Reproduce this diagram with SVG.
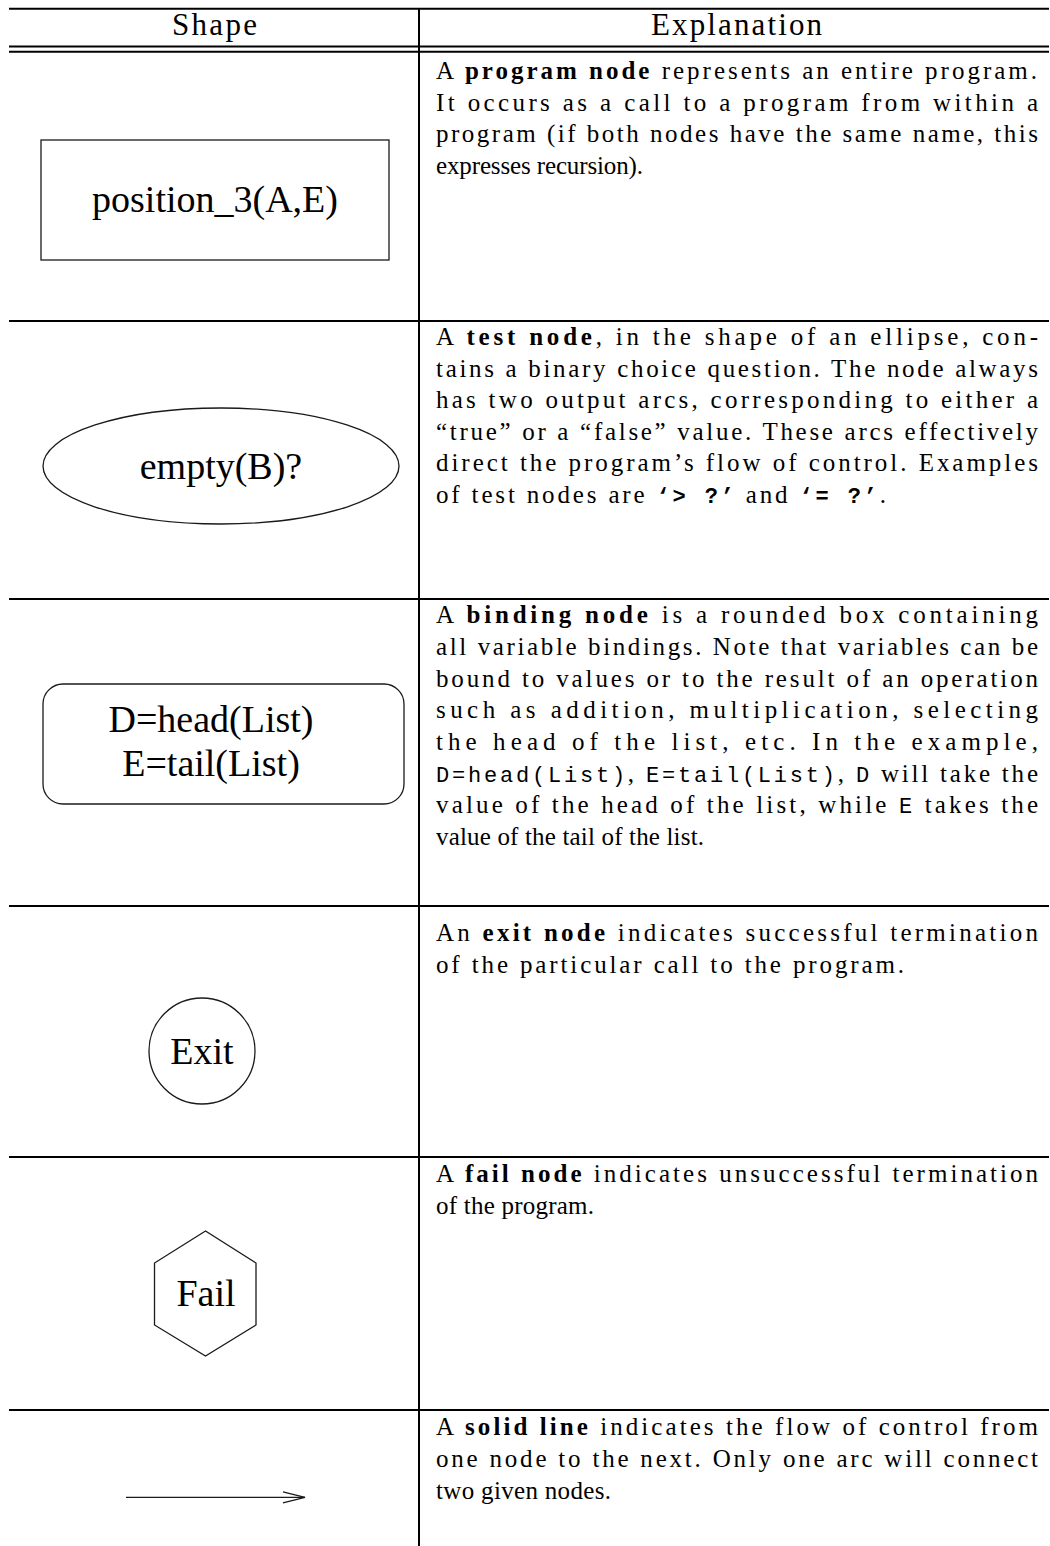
<svg xmlns="http://www.w3.org/2000/svg" width="1050" height="1546" viewBox="0 0 1050 1546">
  <style>
    .rule { stroke: #000; stroke-width: 2; fill: none; }
    .shape { stroke: #1a1a1a; stroke-width: 1.3; fill: none; }
    .lbl { font-family: "Liberation Serif", "Times New Roman", serif; font-size: 38px; fill: #000; text-anchor: middle; }
    .hd { font-family: "Liberation Serif", "Times New Roman", serif; font-size: 31px; fill: #000; }
    .tx { font-family: "Liberation Serif", "Times New Roman", serif; font-size: 25px; fill: #000; }
    .b { font-weight: bold; }
    .tt { font-family: "Liberation Mono", "Courier New", monospace; font-size: 22px; }
    .ttb { font-family: "Liberation Mono", "Courier New", monospace; font-size: 22px; font-weight: bold; }
    .conn { stroke: #1a1a1a; stroke-width: 1.3; fill: none; }
  </style>
  <defs>
    <marker id="openHead" viewBox="0 0 24 14" refX="23" refY="7" markerWidth="24" markerHeight="14" markerUnits="userSpaceOnUse" orient="auto">
      <path d="M1,1.5 L23,7 L1,12.5" fill="none" stroke="#1a1a1a" stroke-width="1.3"/>
    </marker>
  </defs>

  <rect width="1050" height="1546" fill="#fff"/>

  <!-- table rules -->
  <g id="table">
    <line class="rule" x1="9" y1="8.7" x2="1049" y2="8.7"/>
    <line class="rule" x1="9" y1="46.5" x2="1049" y2="46.5" stroke-width="1.7"/>
    <line class="rule" x1="9" y1="51.8" x2="1049" y2="51.8" stroke-width="1.7"/>
    <line class="rule" x1="419" y1="8" x2="419" y2="1546" stroke-width="2.6"/>
    <line class="rule" x1="9" y1="321" x2="1049" y2="321"/>
    <line class="rule" x1="9" y1="599" x2="1049" y2="599"/>
    <line class="rule" x1="9" y1="906" x2="1049" y2="906"/>
    <line class="rule" x1="9" y1="1157" x2="1049" y2="1157"/>
    <line class="rule" x1="9" y1="1410" x2="1049" y2="1410"/>
    <text class="hd" x="172" y="35" textLength="85" lengthAdjust="spacing">Shape</text>
    <text class="hd" x="651" y="35" textLength="171" lengthAdjust="spacing">Explanation</text>
  </g>

  <!-- program node -->
  <g id="program-node">
    <rect class="shape" x="41" y="140" width="348" height="120"/>
    <text class="lbl" x="215" y="212">position_3(A,E)</text>
  </g>

  <!-- test node -->
  <g id="test-node">
    <ellipse class="shape" cx="221" cy="466" rx="178" ry="58"/>
    <text class="lbl" x="221" y="479">empty(B)?</text>
  </g>

  <!-- binding node -->
  <g id="binding-node">
    <rect class="shape" x="43" y="684" width="361" height="120" rx="20" ry="20"/>
    <text class="lbl" x="211" y="732">D=head(List)</text>
    <text class="lbl" x="211" y="776">E=tail(List)</text>
  </g>

  <!-- exit node -->
  <g id="exit-node">
    <circle class="shape" cx="202" cy="1051" r="53"/>
    <text class="lbl" x="202" y="1064">Exit</text>
  </g>

  <!-- fail node -->
  <g id="fail-node">
    <polygon class="shape" points="205.5,1231 154.5,1263 154.5,1325 205.5,1356 256,1325 256,1263"/>
    <text class="lbl" x="206" y="1306">Fail</text>
  </g>

  <!-- connector sample -->
  <g id="connectors">
    <line class="conn" x1="126" y1="1497.3" x2="305" y2="1497.3" marker-end="url(#openHead)"/>
  </g>

  <!-- explanations -->
  <g id="explain-program">
    <text class="tx" x="436" y="79" textLength="601" lengthAdjust="spacing">A <tspan class="b">program node</tspan> represents an entire program.</text>
    <text class="tx" x="436" y="111" textLength="602" lengthAdjust="spacing">It occurs as a call to a program from within a</text>
    <text class="tx" x="436" y="142" textLength="602" lengthAdjust="spacing">program (if both nodes have the same name, this</text>
    <text class="tx" x="436" y="174" textLength="207" lengthAdjust="spacing">expresses recursion).</text>
  </g>

  <g id="explain-test">
    <text class="tx" x="436" y="345" textLength="602" lengthAdjust="spacing">A <tspan class="b">test node</tspan>, in the shape of an ellipse, con-</text>
    <text class="tx" x="436" y="377" textLength="602" lengthAdjust="spacing">tains a binary choice question. The node always</text>
    <text class="tx" x="436" y="408" textLength="602" lengthAdjust="spacing">has two output arcs, corresponding to either a</text>
    <text class="tx" x="436" y="440" textLength="602" lengthAdjust="spacing">“true” or a “false” value. These arcs effectively</text>
    <text class="tx" x="436" y="471" textLength="602" lengthAdjust="spacing">direct the program’s flow of control. Examples</text>
    <text class="tx" x="436" y="503" textLength="450" lengthAdjust="spacing">of test nodes are <tspan class="ttb">‘&gt; ?’</tspan> and <tspan class="ttb">‘= ?’</tspan>.</text>
  </g>

  <g id="explain-binding">
    <text class="tx" x="436" y="623" textLength="602" lengthAdjust="spacing">A <tspan class="b">binding node</tspan> is a rounded box containing</text>
    <text class="tx" x="436" y="655" textLength="602" lengthAdjust="spacing">all variable bindings. Note that variables can be</text>
    <text class="tx" x="436" y="687" textLength="602" lengthAdjust="spacing">bound to values or to the result of an operation</text>
    <text class="tx" x="436" y="718" textLength="602" lengthAdjust="spacing">such as addition, multiplication, selecting</text>
    <text class="tx" x="436" y="750" textLength="602" lengthAdjust="spacing">the head of the list, etc. In the example,</text>
    <text class="tx" x="436" y="782" textLength="602" lengthAdjust="spacing"><tspan class="tt">D=head(List)</tspan>, <tspan class="tt">E=tail(List)</tspan>, <tspan class="tt">D</tspan> will take the</text>
    <text class="tx" x="436" y="813" textLength="602" lengthAdjust="spacing">value of the head of the list, while <tspan class="tt">E</tspan> takes the</text>
    <text class="tx" x="436" y="845" textLength="268" lengthAdjust="spacing">value of the tail of the list.</text>
  </g>

  <g id="explain-exit">
    <text class="tx" x="436" y="941" textLength="602" lengthAdjust="spacing">An <tspan class="b">exit node</tspan> indicates successful termination</text>
    <text class="tx" x="436" y="973" textLength="468" lengthAdjust="spacing">of the particular call to the program.</text>
  </g>

  <g id="explain-fail">
    <text class="tx" x="436" y="1182" textLength="602" lengthAdjust="spacing">A <tspan class="b">fail node</tspan> indicates unsuccessful termination</text>
    <text class="tx" x="436" y="1214" textLength="158" lengthAdjust="spacing">of the program.</text>
  </g>

  <g id="explain-line">
    <text class="tx" x="436" y="1435" textLength="602" lengthAdjust="spacing">A <tspan class="b">solid line</tspan> indicates the flow of control from</text>
    <text class="tx" x="436" y="1467" textLength="602" lengthAdjust="spacing">one node to the next. Only one arc will connect</text>
    <text class="tx" x="436" y="1499" textLength="175" lengthAdjust="spacing">two given nodes.</text>
  </g>
</svg>
